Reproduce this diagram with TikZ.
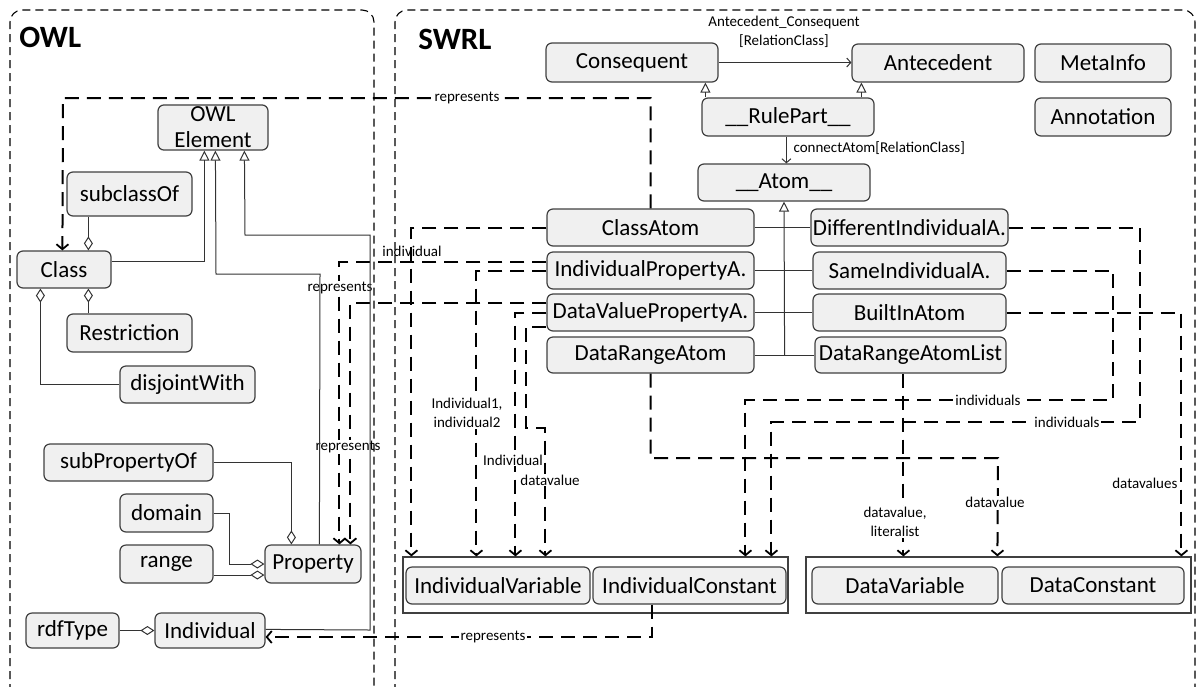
\documentclass[tikz,border=0pt]{standalone}
\usepackage{fontspec}
\setmainfont{Carlito}
\usetikzlibrary{arrows.meta,calc}
\definecolor{boxfill}{HTML}{F0F0F0}
\definecolor{boxline}{HTML}{404040}
% box given by its corners: style, x1, y1, x2, y2, name, text
\newcommand{\boxat}[7]{%
  \node[#1, minimum width={(#4-#2)*0.5pt}, minimum height={(#5-#3)*0.5pt}]
    (#6) at ({(#2+#4)/2},{(#3+#5)/2}) {#7};}
\begin{document}
\begin{tikzpicture}[x=0.5pt,y=-0.5pt,
  umlbox/.style={draw=boxline, fill=boxfill, rounded corners=3pt, line width=0.6pt,
    inner sep=1pt, font=\fontsize{11.5}{13}\selectfont, align=center},
  groupbox/.style={draw=boxline, fill=white, line width=0.6pt, inner sep=0pt},
  frame/.style={draw=black, line width=0.55pt, dash pattern=on 4pt off 2.5pt, rounded corners=6pt},
  rel/.style={line width=1pt, dash pattern=on 7pt off 4pt,
    -{Straight Barb[length=2.5pt,width=6pt,line width=0.9pt]}},
  assoc/.style={draw=black!80, line width=0.5pt},
  gen/.style={assoc, -{Triangle[open,length=5pt,width=5pt]}},
  agg/.style={assoc, -{Diamond[open,length=7pt,width=4.5pt]}},
  nav/.style={assoc, -{Straight Barb[length=2pt,width=4.5pt]}},
  lbl/.style={font=\fontsize{7.5}{9.5}\selectfont, inner sep=0.6pt, fill=white, align=center},
  lblclear/.style={lbl, fill=none},
  title/.style={font=\bfseries\fontsize{15.5}{16}\selectfont, inner sep=0pt, anchor=west},
]
\useasboundingbox (0,0) rectangle (1197,686);

% ---------- OWL classes ----------
\node[title] (owltitle) at (19,37) {OWL};
\boxat{umlbox}{158}{105}{268}{150}{owlel}{OWL\\Element}
\boxat{umlbox}{67}{172}{192}{216}{subcl}{subclassOf}
\boxat{umlbox}{17}{251}{111}{288}{cls}{Class}
\boxat{umlbox}{67}{314}{192}{352}{restr}{Restriction}
\boxat{umlbox}{120}{366}{255}{403}{disj}{disjointWith}
\boxat{umlbox}{44}{444}{213}{481}{subprop}{subPropertyOf}
\boxat{umlbox}{120}{494}{213}{532}{dom}{domain}
\boxat{umlbox}{120}{545}{213}{583}{rng}{range}
\boxat{umlbox}{265}{545}{361}{583}{prop}{Property}
\boxat{umlbox}{26}{613}{119}{648}{rdft}{rdfType}
\boxat{umlbox}{155}{613}{265}{648}{indiv}{Individual}

% ---------- SWRL classes ----------
\node[title] (swrltitle) at (418,39) {SWRL};
\boxat{umlbox}{546}{43}{718}{82}{conseq}{Consequent}
\boxat{umlbox}{852}{44}{1024}{82}{antec}{Antecedent}
\boxat{umlbox}{1035}{44}{1171}{82}{meta}{MetaInfo}
\boxat{umlbox}{1035}{98}{1171}{136}{annot}{Annotation}
\boxat{umlbox}{702}{98}{874}{136}{rulep}{\_\_RulePart\_\_}
\boxat{umlbox}{698}{164}{870}{201}{atom}{\_\_Atom\_\_}
\boxat{umlbox}{547}{209}{754}{246}{classatom}{ClassAtom}
\boxat{umlbox}{547}{252}{754}{289}{indprop}{IndividualPropertyA.}
\boxat{umlbox}{547}{294}{754}{331}{dvprop}{DataValuePropertyA.}
\boxat{umlbox}{547}{337}{754}{373}{dratom}{DataRangeAtom}
\boxat{umlbox}{813}{209}{1006}{246}{diffind}{DifferentIndividualA.}
\boxat{umlbox}{813}{252}{1006}{289}{sameind}{SameIndividualA.}
\boxat{umlbox}{813}{294}{1006}{331}{builtin}{BuiltInAtom}
\boxat{umlbox}{815}{337}{1006}{373}{dralist}{DataRangeAtomList}

% argument groups
\boxat{groupbox}{403}{557}{788}{613}{ivbox}{}
\boxat{umlbox}{406}{567}{590}{604}{ivar}{IndividualVariable}
\boxat{umlbox}{593}{567}{786}{604}{iconst}{IndividualConstant}
\boxat{groupbox}{806}{557}{1191}{613}{dbox}{}
\boxat{umlbox}{812}{567}{998}{604}{dvar}{DataVariable}
\boxat{umlbox}{1002}{567}{1184}{604}{dconst}{DataConstant}

% ---------- SWRL to OWL / argument relations ----------
\draw[rel] (classatom.north) |- (63,98) -- ($(cls.north west)+(46,0)$);
\node[lbl] (l1) at (467,98) {represents};
\draw[rel] (classatom.west) -| ($(ivbox.north west)+(9,0)$);
\node[lblclear] (l2) at (412,251) {individual};
\draw[rel] ($(indprop.west)+(0,-9)$) -| ($(prop.north west)+(75,0)$);
\node[lbl] (l3) at (340,288) {represents};
\draw[rel] (indprop.west) -| ($(ivbox.north west)+(74,0)$);
\node[lbl] (l4) at (467,413) {Individual1,\\individual2};
\draw[rel] ($(dvprop.west)+(0,-10)$) -| ($(prop.north west)+(86,0)$);
\node[lbl] (l5) at (348,447) {represents};
\draw[rel] (dvprop.west) -| ($(ivbox.north west)+(113,0)$);
\node[lbl] (l6) at (513,460) {Individual};
\draw[rel] ($(dvprop.west)+(0,14)$) -| (526,428) -| ($(ivbox.north west)+(143,0)$);
\node[lbl] (l7) at (550,480) {datavalue};
\draw[rel] (dratom.south) |- (998,458) -- ($(dbox.north west)+(192,0)$);
\node[lbl] (l8) at (995,502) {datavalue};
\draw[rel] ($(dralist.south west)+(89,0)$) -- ($(dbox.north west)+(98,0)$);
\node[lbl] (l9) at (895,522) {datavalue,\\literalist};
\draw[rel] (diffind.east) -| (1140,422) -| ($(ivbox.north west)+(369,0)$);
\node[lbl] (l10) at (1067,422) {individuals};
\draw[rel] (sameind.east) -| (1113,400) -| ($(ivbox.north west)+(343,0)$);
\node[lbl] (l11) at (988,400) {individuals};
\draw[rel] (builtin.east) -| ($(dbox.north west)+(376,0)$);
\node[lblclear, anchor=east] (l12) at (1179,483) {datavalues};
\draw[rel] ($(iconst.south west)+(60,0)$) |- ($(indiv.east)+(0,6.5)$);
\node[lbl] (l13) at (493,637) {represents};

% ---------- OWL structure ----------
\draw[agg] ($(subcl.south west)+(22,0)$) -- ($(cls.north west)+(72,0)$);
\draw[agg] ($(restr.north west)+(22,0)$) -- ($(cls.south west)+(72,0)$);
\draw[agg] (disj.west) -| ($(cls.south west)+(24,0)$);
\draw[gen] ($(cls.north east)+(0,11)$) -| ($(owlel.south west)+(47,0)$);
\draw[gen] ($(prop.north west)+(55,0)$) -- (320,274) -- (216,274) -- ($(owlel.south west)+(58,0)$);
\draw[gen] ($(indiv.north east)+(0,17)$) -- (370,630) -- (370,235) -- (245,235) -- ($(owlel.south west)+(87,0)$);
\draw[agg] (subprop.east) -| ($(prop.north west)+(27,0)$);
\draw[agg] (dom.east) -- (229,513) |- (prop.west);
\draw[agg] ($(rng.east)+(0,11)$) -- ($(prop.west)+(0,11)$);
\draw[agg] (rdft.east) -- (indiv.west);

% ---------- SWRL structure ----------
\draw[nav] (conseq.east) -- (conseq.east -| antec.west);
\node[lblclear] (lac) at (784,32) {Antecedent\_Consequent\\{}[RelationClass]};
\draw[gen] ($(rulep.north west)+(4,0)$) -- ($(conseq.south west)+(160,0)$);
\draw[gen] ($(rulep.north west)+(160,0)$) -- ($(antec.south west)+(10,0)$);
\draw[nav] ($(rulep.south west)+(85,0)$) -- ($(atom.north west)+(89,0)$);
\node[lblclear, anchor=west] (lconn) at (792,148) {connectAtom[RelationClass]};
\draw[assoc] (classatom.east) -- (diffind.west);
\draw[assoc] (indprop.east) -- (sameind.west);
\draw[assoc] (dvprop.east) -- (builtin.west);
\draw[assoc] (dratom.east) -- (dralist.west);
\draw[gen] ($(dratom.east)+(30,0)$) -- (atom.south);

% ---------- package frames ----------
\draw[frame] (10,692) -- (10,10) -- (374,10) -- (374,692);
\draw[frame] (395,692) -- (395,10) -- (1195,10) -- (1195,692);
\end{tikzpicture}
\end{document}
